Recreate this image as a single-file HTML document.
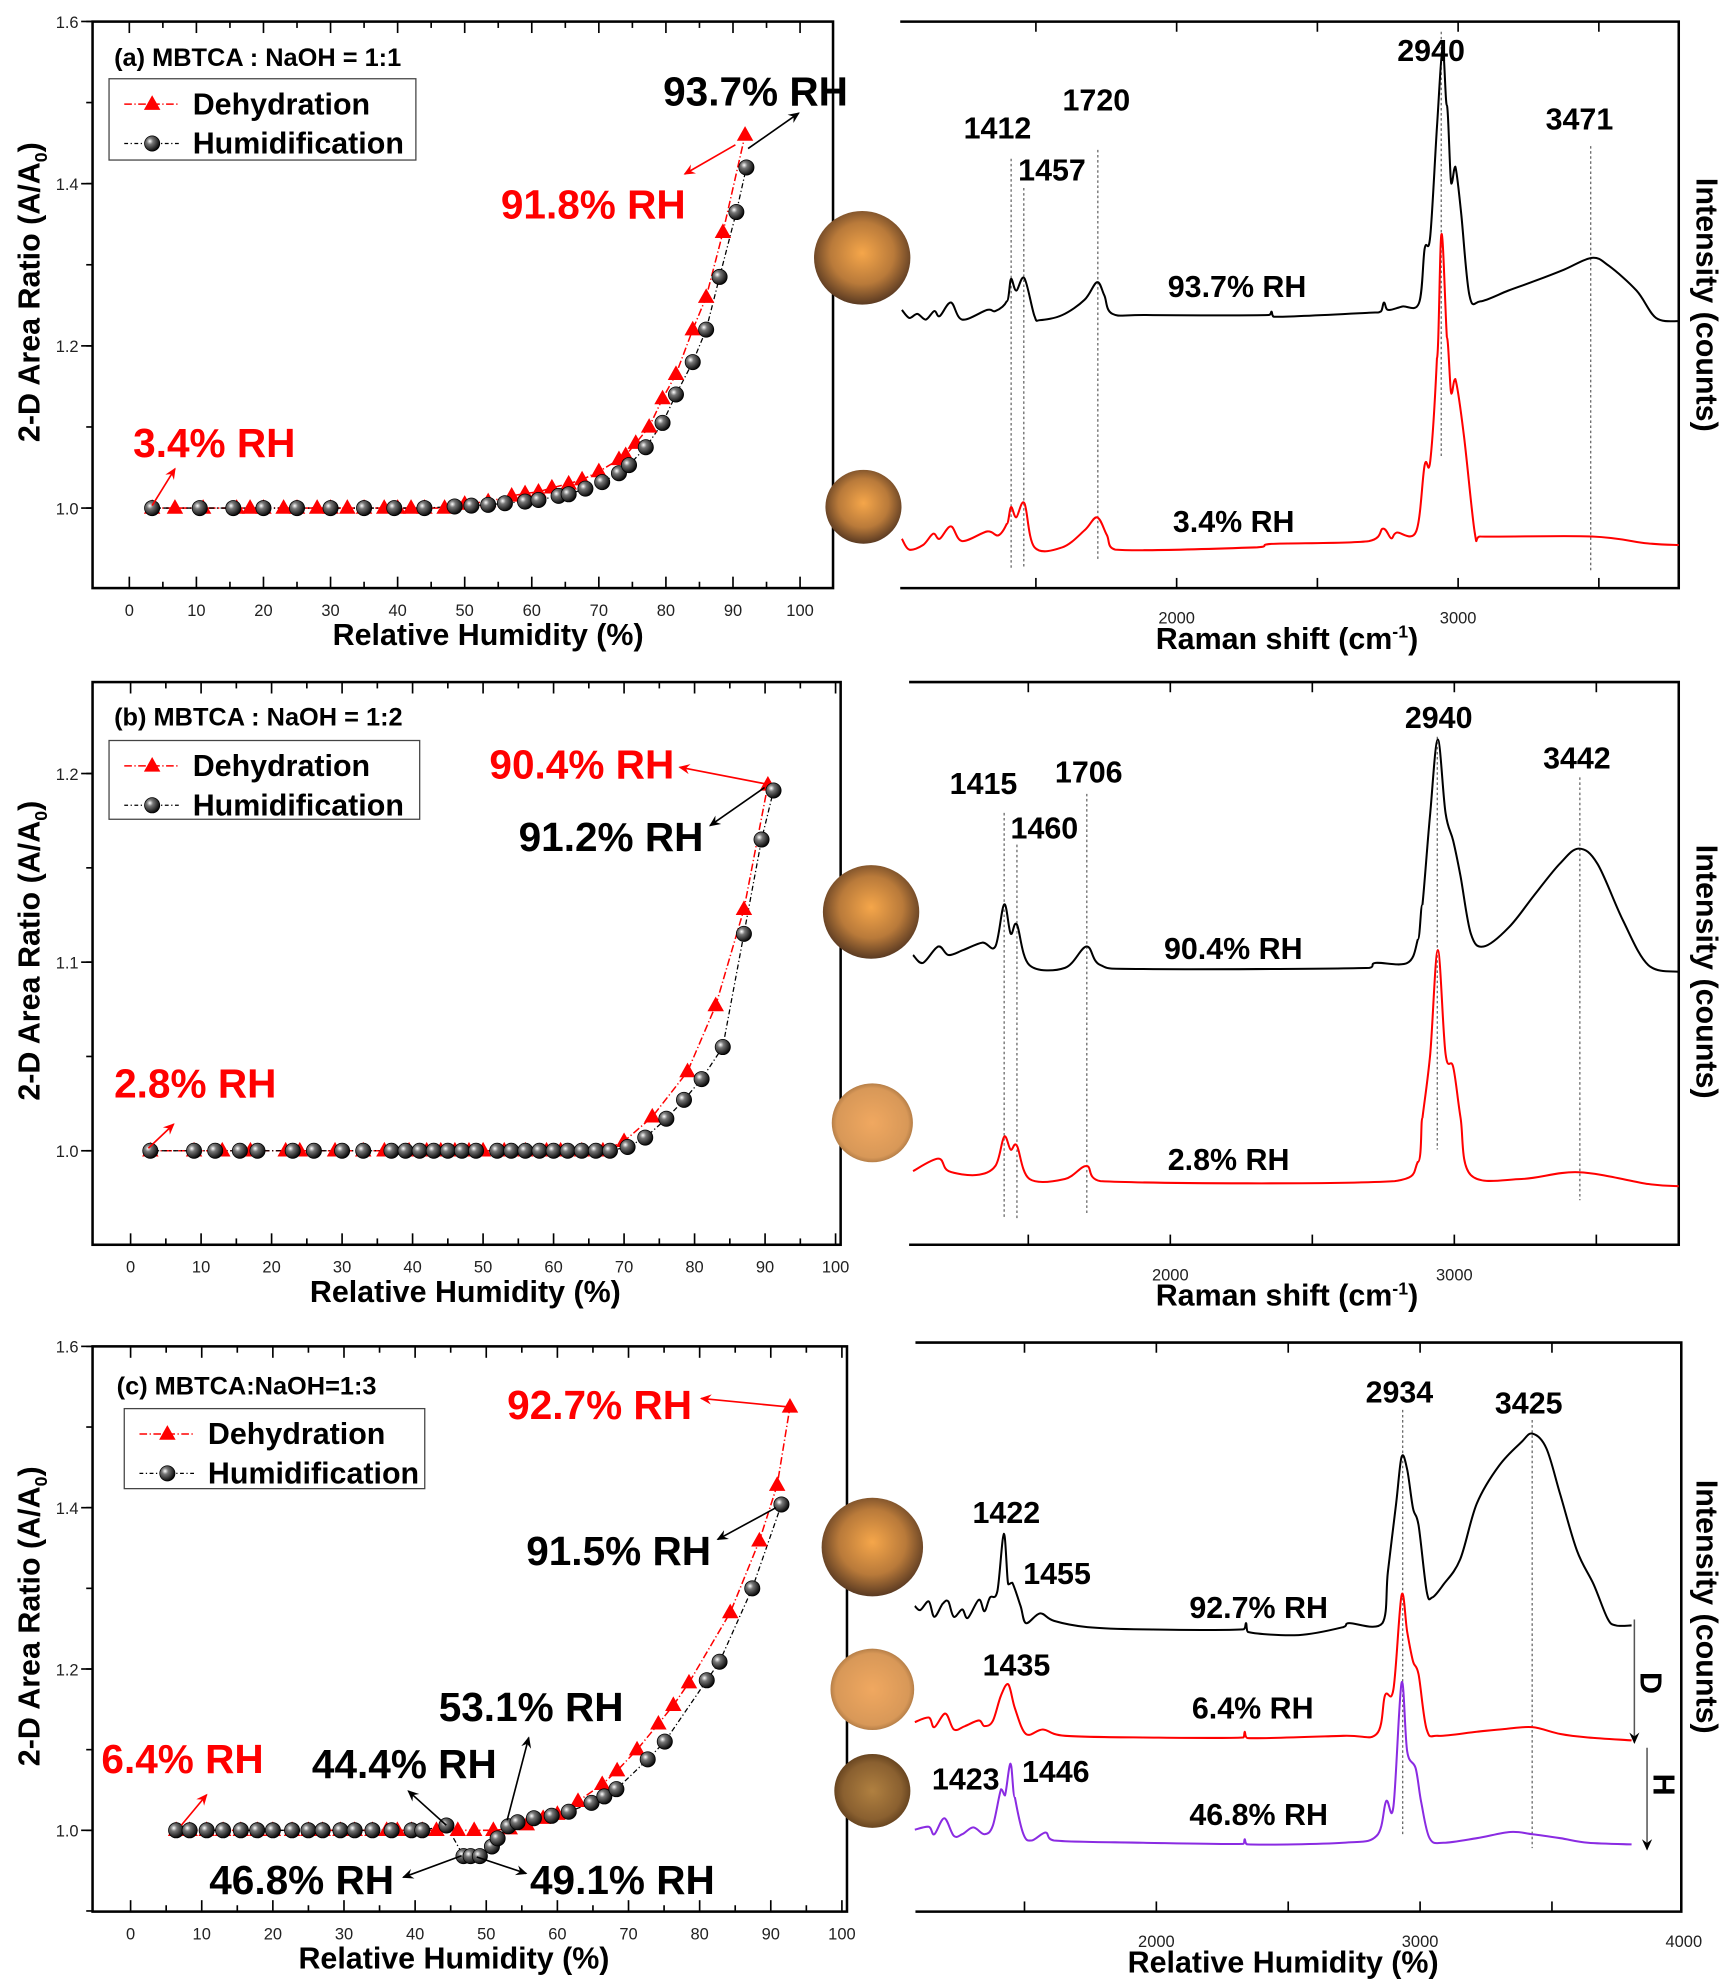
<!DOCTYPE html>
<html><head><meta charset="utf-8">
<style>
html,body{margin:0;padding:0;background:#fff;}
svg{display:block;font-family:"Liberation Sans Narrow","Liberation Sans",sans-serif;}
</style></head>
<body>
<svg id="fig" width="1732" height="1984" viewBox="0 0 1366 1562" preserveAspectRatio="none" xmlns="http://www.w3.org/2000/svg">
<defs>
<radialGradient id="ball" cx="0.35" cy="0.35" r="0.7"><stop offset="0" stop-color="#fff"/><stop offset="0.3" stop-color="#777"/><stop offset="1" stop-color="#000"/></radialGradient>
<radialGradient id="drop1" cx="0.5" cy="0.45" r="0.55"><stop offset="0" stop-color="#f5a64a"/><stop offset="0.6" stop-color="#b97a3a"/><stop offset="1" stop-color="#5a3a22"/></radialGradient>
<radialGradient id="drop2" cx="0.5" cy="0.5" r="0.55"><stop offset="0" stop-color="#f0a860"/><stop offset="0.8" stop-color="#d89858"/><stop offset="1" stop-color="#9a6a3a"/></radialGradient>
<radialGradient id="drop3" cx="0.5" cy="0.5" r="0.55"><stop offset="0" stop-color="#b08040"/><stop offset="0.7" stop-color="#8a6030"/><stop offset="1" stop-color="#5a3a1a"/></radialGradient>
<marker id="arK" markerWidth="10" markerHeight="10" refX="8" refY="5" orient="auto" markerUnits="userSpaceOnUse"><path d="M0,1 L9,5 L0,9 L3,5 Z" fill="#000"/></marker>
<marker id="arR" markerWidth="10" markerHeight="10" refX="8" refY="5" orient="auto" markerUnits="userSpaceOnUse"><path d="M0,1 L9,5 L0,9 L3,5 Z" fill="#f00"/></marker>
</defs>
<g id="root"></g>
</svg>
<script>
// ===== Panel data (area ratio vs RH) =====
const aDehyX=[3.4,6.8,11,16,18,20,23,25,28,30,32.5,35,38,40,42,44,47,50,53.5,57,59,61,63,65.5,67.5,70,73,74,75.5,77.5,79.5,81.5,84,86,88.5,91.8];
const aDehyY=[1,1,1,1,1,1,1,1,1,1,1,1,1,1,1,1,1,1.005,1.008,1.015,1.018,1.02,1.025,1.03,1.035,1.045,1.06,1.065,1.08,1.10,1.135,1.165,1.22,1.26,1.34,1.46];
const aHumX=[3.4,10.5,15.5,20,25,30,35,39.5,44,48.5,51,53.5,56,59,61,64,65.5,68,70.5,73,74.5,77,79.5,81.5,84,86,88,90.5,92];
const aHumY=[1,1,1,1,1,1,1,1,1,1.002,1.003,1.004,1.006,1.008,1.01,1.015,1.017,1.024,1.032,1.043,1.053,1.075,1.105,1.14,1.18,1.22,1.285,1.365,1.42];
const bDehyX=[2.8,9,13,17,22,24,29,33,36,39.5,42,44,46,48,50,53,56,59,61,64,67,70,74,79,83,87,90.4];
const bDehyY=[1,1,1,1,1,1,1,1,1,1,1,1,1,1,1,1,1,1,1,1,1,1.005,1.018,1.042,1.077,1.128,1.194];
const bHumX=[2.8,9,12,15.5,18,23,26,30,33,37,39,41,43,45,47,49,52,54,56,58,60,62,64,66,68,70.5,73,76,78.5,81,84,87,89.5,91.2];
const bHumY=[1,1,1,1,1,1,1,1,1,1,1,1,1,1,1,1,1,1,1,1,1,1,1,1,1,1.002,1.007,1.017,1.027,1.038,1.055,1.115,1.165,1.191];
const cDehyX=[6.4,8.3,10.7,13,15.5,17.8,20,22.7,25,27,29.5,31.5,34,36,37.5,39.5,41,43,46,48.3,51,53.3,55.7,58,60,62.9,66.3,68.4,71.2,74.2,76.3,78.5,84.3,88.4,90.9,92.7];
const cDehyY=[1,1,1,1,1,1,1,1,1,1,1,1,1,1,1,1,1,1,1,1,1,1.002,1.007,1.015,1.02,1.036,1.057,1.074,1.10,1.132,1.155,1.183,1.27,1.359,1.428,1.525];
const cHumX=[6.4,8.3,10.7,13,15.5,17.8,20,22.7,25,27,29.5,31.5,34,36.7,39.5,41,44.4,46.8,47.8,49.1,50.8,51.6,53.1,54.4,56.7,59.2,61.6,64.8,66.6,68.3,72.7,75.1,81,82.8,87.4,91.5];
const cHumY=[1,1,1,1,1,1,1,1,1,1,1,1,1,1,1,1,1.006,0.968,0.968,0.968,0.98,0.99,1.005,1.01,1.015,1.018,1.023,1.034,1.042,1.051,1.088,1.11,1.186,1.209,1.3,1.404];
const xTicksRH=[0,10,20,30,40,50,60,70,80,90,100];
const aYTicks=[1.0,1.2,1.4,1.6];
const bYTicks=[1.0,1.1,1.2];
const cYTicks=[1.0,1.2,1.4,1.6];

// ===== Raman spectra (wavenumber, intensity a.u.) =====
const aBlkW=[1024,1050,1079,1109,1139,1158,1198,1238,1327,1356,1396,1412,1430,1459,1495,1515,1594,1673,1717,1743,1772,1891,2327,2337,2347,2683,2723,2737,2752,2802,2861,2881,2901,2925,2945,2960,2976,2990,3010,3040,3079,3178,3277,3376,3475,3535,3634,3703,3784];
const aBlkI=[49.1,47.7,48.4,47.4,48.9,48.0,50.4,47.4,49.1,48.9,50.6,54.6,52.5,54.7,48.0,47.3,48.2,50.9,54.0,51.7,48.4,48.2,48.2,48.8,47.9,48.6,48.8,50.4,49.1,49.7,50.3,59.9,62.1,81.4,95.4,85.2,71.4,74.4,66.6,51.7,50.6,52.5,54.3,56.2,58.3,56.9,52.5,47.7,47.1];
const aRedW=[1024,1050,1099,1135,1158,1198,1238,1327,1366,1396,1412,1430,1459,1495,1594,1673,1717,1752,1782,2287,2337,2683,2733,2762,2782,2851,2881,2901,2925,2941,2960,2976,2990,3020,3059,3079,3475,3673,3784];
const aRedI=[8.7,6.8,7.6,9.6,8.7,10.9,8.3,10.0,9.3,11.3,14.3,12.5,15.0,7.2,7.2,10.2,12.5,9.4,6.8,7.2,7.8,8.3,10.5,8.8,9.8,10.0,21.7,22.4,40.6,62.5,44.3,34.3,36.9,27.2,9.8,9.1,9.1,7.9,7.6];
const bBlkW=[1094,1129,1183,1219,1272,1339,1384,1415,1438,1460,1504,1629,1705,1754,1897,2701,2723,2835,2871,2888,2915,2942,2969,2996,3022,3058,3103,3192,3281,3371,3438,3504,3594,3683,3790];
const bBlkI=[51.5,50.1,53.0,51.5,52.4,53.7,53.0,60.5,55.3,56.9,49.7,49.2,53.0,49.7,49.0,49.2,50.1,50.1,54.2,60.5,76.7,89.8,76.7,71.8,65.5,55.3,53.0,56.4,62.1,67.7,70.4,67.7,57.6,49.7,48.5];
const bRedW=[1094,1183,1219,1317,1384,1415,1438,1460,1504,1629,1705,1754,2790,2871,2888,2915,2942,2969,2996,3022,3058,3237,3438,3683,3790];
const bRedI=[13.1,15.3,13.1,12.4,14.0,19.2,16.9,17.6,11.7,11.7,14.0,11.3,11.3,14.7,22.6,33.9,52.4,33.9,31.6,22.6,12.4,11.7,12.9,10.8,10.4];
const cBlkW=[1084,1105,1137,1158,1190,1211,1232,1264,1285,1327,1348,1369,1397,1422,1439,1454,1485,1506,1559,1612,1738,1949,2329,2340,2350,2540,2709,2730,2857,2878,2909,2930,2951,2973,2994,3025,3046,3089,3152,3215,3300,3384,3426,3479,3532,3595,3658,3711,3743,3802];
const cBlkI=[53.7,53.0,54.5,51.8,54.1,54.5,51.8,53.1,51.6,54.8,52.8,55.2,56.3,66.4,57.5,57.8,53.7,50.7,52.4,51.1,50.0,49.6,49.6,50.7,49.1,48.6,50.0,50.7,50.7,59.7,71.7,79.9,77.7,70.9,67.9,56.3,55.2,57.5,61.9,71.7,78.4,82.5,84.0,81.4,73.2,63.4,57.5,51.5,50.3,50.3];
const cRedW=[1084,1137,1158,1200,1232,1274,1327,1348,1380,1411,1439,1464,1506,1570,1654,1949,2329,2335,2346,2709,2835,2867,2899,2930,2951,2973,2994,3025,3068,3215,3321,3426,3532,3637,3802];
const cRedI=[33.3,34.1,32.4,34.8,32.0,32.6,33.6,32.6,33.5,38.0,39.9,35.7,31.2,32.0,30.9,30.6,30.6,31.6,30.5,30.9,31.2,38.0,39.1,55.6,49.2,44.0,41.7,32.0,30.9,31.6,32.1,32.4,31.2,30.6,30.1];
const cPurW=[1084,1137,1158,1196,1232,1264,1306,1348,1380,1411,1426,1447,1464,1496,1527,1580,1612,1949,2329,2335,2346,2709,2835,2871,2899,2930,2951,2983,3004,3036,3089,3215,3342,3426,3532,3637,3802];
const cPurI=[14.4,14.9,13.6,16.4,13.3,13.6,14.8,13.6,15.1,21.5,20.4,26.0,20.0,13.6,12.5,13.9,12.5,12.1,11.9,12.7,11.8,12.1,13.3,19.4,18.5,40.2,28.2,25.2,19.3,12.9,12.1,12.9,14.0,13.6,12.9,12.1,11.8];

const NS='http://www.w3.org/2000/svg';
const root=document.getElementById('root');
function mk(tag,attrs,parent){const e=document.createElementNS(NS,tag);for(const k in attrs)e.setAttribute(k,attrs[k]);(parent||root).appendChild(e);return e;}
function txt(x,y,s,size,fill,anchor,extra){const e=mk('text',Object.assign({x:x,y:y,'font-size':size,fill:fill||'#000','text-anchor':anchor||'start','font-weight':'bold'},extra||{}));e.textContent=s;return e;}
function clamp(v,a,b){return Math.max(Math.min(a,b),Math.min(Math.max(a,b),v));}
function smoothPath(pts){
  let d='M'+pts[0][0].toFixed(1)+','+pts[0][1].toFixed(1);
  for(let i=0;i<pts.length-1;i++){
    const p0=pts[Math.max(0,i-1)],p1=pts[i],p2=pts[i+1],p3=pts[Math.min(pts.length-1,i+2)];
    let c1x=p1[0]+(p2[0]-p0[0])/6,c1y=p1[1]+(p2[1]-p0[1])/6;
    let c2x=p2[0]-(p3[0]-p1[0])/6,c2y=p2[1]-(p3[1]-p1[1])/6;
    c1x=clamp(c1x,p1[0],p2[0]);c2x=clamp(c2x,p1[0],p2[0]);
    const dx=p2[0]-p1[0];
    if(dx<4){c1y=p1[1];c2y=p2[1];}
    d+=` C${c1x.toFixed(1)},${c1y.toFixed(1)} ${c2x.toFixed(1)},${c2y.toFixed(1)} ${p2[0].toFixed(1)},${p2[1].toFixed(1)}`;
  }
  return d;
}

// ---------- left panels ----------
function leftPanel(p){
  const g=mk('g',{});
  
  
  const X=v=>p.x0+(v-0)*(p.x100-p.x0)/100;
  const Y=v=>p.yRef+(p.yRefVal-v)*p.pxPerUnit;
  const fr=mk('rect',{x:p.L,y:p.T,width:p.R-p.L,height:p.B-p.T,fill:'none',stroke:'#000','stroke-width':2},g);
  
  
  for(let v=0;v<=100;v+=5){const x=X(v);const l=v%10===0?9:5;
    mk('line',{x1:x,y1:p.B,x2:x,y2:p.B-l,stroke:'#000','stroke-width':1.3},g);
    mk('line',{x1:x,y1:p.T,x2:x,y2:p.T+l,stroke:'#000','stroke-width':1.3},g);}
  xTicksRH.forEach(v=>{const t=txt(X(v),p.B+22,String(v),13,'#222','middle',{'font-weight':'normal','font-family':'Liberation Sans, sans-serif'});g.appendChild(t);
    
    });
  const step=p.yTicks[1]-p.yTicks[0];
  for(let v=p.yTicks[0]-step;v<=p.yTicks[p.yTicks.length-1]+1e-6;v+=step/2){const y=Y(v);if(y>p.B||y<p.T-0.5)continue;
    mk('line',{x1:p.L,y1:y,x2:p.L-5,y2:y,stroke:'#000','stroke-width':1.3},g);}
  p.yTicks.forEach(v=>{const y=Y(v);mk('line',{x1:p.L,y1:y,x2:p.L-9,y2:y,stroke:'#000','stroke-width':1.3},g);
    const t=txt(p.L-11,y+5,v.toFixed(1),13,'#222','end',{'font-weight':'normal','font-family':'Liberation Sans, sans-serif'});g.appendChild(t);
    
    });
  const dl=mk('polyline',{points:p.dx.map((v,i)=>X(v)+','+Y(p.dy[i])).join(' '),fill:'none',stroke:'#f00','stroke-width':1.2,'stroke-dasharray':'6,2,1,2'},g);
  
  
  const hl=mk('polyline',{points:p.hx.map((v,i)=>X(v)+','+Y(p.hy[i])).join(' '),fill:'none',stroke:'#000','stroke-width':1,'stroke-dasharray':'4,2,1,2'},g);
  
  
  p.dx.forEach((v,i)=>{const x=X(v),y=Y(p.dy[i]);
    const m=mk('polygon',{points:`${x},${y-7} ${x-6.5},${y+4.5} ${x+6.5},${y+4.5}`,fill:'#f00'},g);
    
    });
  p.hx.forEach((v,i)=>{const m=mk('circle',{cx:X(v),cy:Y(p.hy[i]),r:6,fill:'url(#ball)',stroke:'#000','stroke-width':0.6},g);
    
    });
  const xt=txt(p.xtX,p.B+45,'Relative Humidity (%)',24,'#000','middle');g.appendChild(xt);
  
  
  const yc=(p.T+p.B)/2-10;
  const yt=mk('text',{x:0,y:0,'font-size':24,'font-weight':'bold','text-anchor':'middle',transform:`translate(31,${yc}) rotate(-90)`,'font-family':'Liberation Sans, sans-serif'},g);
  yt.innerHTML='2-D Area Ratio (A/A<tspan font-size="14" dy="6">0</tspan><tspan dy="-6">)</tspan>';
  
  
  const ti=txt(p.titleX,p.titleY,p.title,20,'#000','start');g.appendChild(ti);
  
  
  const lg=mk('g',{},g);
  
  
  mk('rect',{x:p.lg[0],y:p.lg[1],width:p.lg[2],height:p.lg[3],fill:'#fff',stroke:'#444','stroke-width':1},lg);
  const ly1=p.lg[1]+20,ly2=p.lg[1]+51,lx=p.lg[0]+12;
  mk('line',{x1:lx,y1:ly1,x2:lx+44,y2:ly1,stroke:'#f00','stroke-width':1.2,'stroke-dasharray':'6,2,1,2'},lg);
  mk('polygon',{points:`${lx+22},${ly1-7} ${lx+15.5},${ly1+4.5} ${lx+28.5},${ly1+4.5}`,fill:'#f00'},lg);
  mk('line',{x1:lx,y1:ly2,x2:lx+44,y2:ly2,stroke:'#000','stroke-width':1,'stroke-dasharray':'3,2,1,2'},lg);
  mk('circle',{cx:lx+22,cy:ly2,r:6,fill:'url(#ball)',stroke:'#000','stroke-width':0.6},lg);
  const e1=txt(lx+54,ly1+8,'Dehydration',24,'#000');lg.appendChild(e1);
  
  
  const e2=txt(lx+54,ly2+8,'Humidification',24,'#000');lg.appendChild(e2);
  
  
  p.ann.forEach(a=>{const t=txt(a[0],a[1],a[2],a[3],a[4]);g.appendChild(t);
    
    
    const ar=mk('line',{x1:a[5],y1:a[6],x2:a[7],y2:a[8],stroke:a[4],'stroke-width':1.3,'marker-end':a[4]==='#000'?'url(#arK)':'url(#arR)'},g);
    
    });
}
const F=32;
leftPanel({id:'a',L:73,R:657,T:17,B:463,x0:102,x100:631,yRef:400,yRefVal:1.0,pxPerUnit:638.5,yTicks:aYTicks,xtX:385,
  dx:aDehyX,dy:aDehyY,hx:aHumX,hy:aHumY,title:'(a) MBTCA : NaOH = 1:1',titleX:90,titleY:52,lg:[86,62,242,64],
  ann:[[523,83,'93.7% RH',F,'#000',590,117,630,89],[395,172,'91.8% RH',F,'#f00',580,114,540,137],[105,360,'3.4% RH',F,'#f00',120,398,138,369]]});
leftPanel({id:'b',L:73,R:663,T:537,B:980,x0:103,x100:659,yRef:906,yRefVal:1.0,pxPerUnit:1485,yTicks:bYTicks,xtX:367,
  dx:bDehyX,dy:bDehyY,hx:bHumX,hy:bHumY,title:'(b) MBTCA : NaOH = 1:2',titleX:90,titleY:571,lg:[86,583,245,62],
  ann:[[386,613,'90.4% RH',F,'#f00',603,617,536,604],[409,670,'91.2% RH',F,'#000',603,620,560,650],[90,864,'2.8% RH',F,'#f00',117,904,137,885]]});
leftPanel({id:'c',L:73,R:668,T:1060,B:1505,x0:103,x100:664,yRef:1441,yRefVal:1.0,pxPerUnit:635,yTicks:cYTicks,xtX:358,
  dx:cDehyX,dy:cDehyY,hx:cHumX,hy:cHumY,title:'(c) MBTCA:NaOH=1:3',titleX:92,titleY:1098,lg:[98,1109,237,63],
  ann:[[400,1117,'92.7% RH',F,'#f00',625,1108,553,1101],[415,1232,'91.5% RH',F,'#000',612,1187,566,1212],[80,1396,'6.4% RH',F,'#f00',143,1437,163,1413],
       [346,1355,'53.1% RH',F,'#000',400,1433,417,1368],[246,1400,'44.4% RH',F,'#000',352,1437,322,1410],[165,1491,'46.8% RH',F,'#000',364,1461,318,1478],[418,1491,'49.1% RH',F,'#000',376,1462,415,1475]]});

// ---------- right panels (Raman) ----------
function rightPanel(p){
  const g=mk('g',{});
  
  
  const X=w=>p.x2000+(w-2000)*p.pxPer1000/1000;
  const Y=i=>p.B-i*(p.B-p.T)/100;
  mk('polyline',{points:`${p.L},${p.T} ${p.R},${p.T} ${p.R},${p.B} ${p.L},${p.B}`,fill:'none',stroke:'#000','stroke-width':2},g);
  for(let w=1500;w<=4000;w+=500){const x=X(w);if(x<p.L||x>p.R+1)continue;
    mk('line',{x1:x,y1:p.B,x2:x,y2:p.B-8,stroke:'#000','stroke-width':1.3},g);
    mk('line',{x1:x,y1:p.T,x2:x,y2:p.T+8,stroke:'#000','stroke-width':1.3},g);}
  p.ticks.forEach(w=>{const t=txt(X(w),p.B+28,String(w),13,'#222','middle',{'font-weight':'normal','font-family':'Liberation Sans, sans-serif'});g.appendChild(t);
    
    });
  p.dots.forEach(d=>{const l=mk('line',{x1:X(d[0]),y1:d[1],x2:X(d[0]),y2:d[2],stroke:'#666','stroke-width':1,'stroke-dasharray':'2,2'},g);
    
    });
  p.series.forEach(s=>{const pl=mk('path',{d:smoothPath(s.w.map((w,i)=>[X(w),Y(s.i[i])])),fill:'none',stroke:s.c,'stroke-width':1.6,'stroke-linejoin':'round'},g);
    
    });
  p.labels.forEach(l=>{const t=txt(l[0],l[1],l[2],l[3]||24,'#000','start');g.appendChild(t);
    
    });
  const xt=mk('text',{x:p.xtX,y:p.B+48,'font-size':24,'font-weight':'bold','text-anchor':'middle'},g);
  xt.innerHTML=p.xtitle;
  
  
  const yt=mk('text',{x:0,y:0,'font-size':24,'font-weight':'bold','text-anchor':'middle',transform:`translate(1338,${p.yc}) rotate(90)`,'font-family':'Liberation Sans, sans-serif'},g);
  yt.textContent='Intensity (counts)';
  
  
  p.drops.forEach(d=>{const c=mk('ellipse',{cx:d[0],cy:d[1],rx:d[2],ry:d[2]*0.97,fill:d[3]},g);
    
    });
}
rightPanel({id:'a',L:710,R:1324,T:17,B:463,x2000:928,pxPer1000:222,ticks:[2000,3000],xtX:1015,yc:240,
  xtitle:'Raman shift (cm<tspan font-size="14" dy="-9">-1</tspan><tspan dy="9">)</tspan>',
  series:[{w:aBlkW,i:aBlkI,c:'#000',n:'spectrum-93.7rh'},{w:aRedW,i:aRedI,c:'#f00',n:'spectrum-3.4rh'}],
  dots:[[1412,125,448],[1457,148,448],[1720,118,440],[2940,25,360],[3471,115,450]],
  labels:[[760,109,'1412'],[803,142,'1457'],[838,87,'1720'],[1102,48,'2940'],[1219,102,'3471'],[921,234,'93.7% RH'],[925,419,'3.4% RH']],
  drops:[[680,203,38,'url(#drop1)'],[681,399,30,'url(#drop1)']]});
rightPanel({id:'b',L:717,R:1324,T:537,B:980,x2000:923,pxPer1000:224,ticks:[2000,3000],xtX:1015,yc:765,
  xtitle:'Raman shift (cm<tspan font-size="14" dy="-9">-1</tspan><tspan dy="9">)</tspan>',
  series:[{w:bBlkW,i:bBlkI,c:'#000',n:'spectrum-90.4rh'},{w:bRedW,i:bRedI,c:'#f00',n:'spectrum-2.8rh'}],
  dots:[[1415,640,960],[1460,665,960],[1706,625,955],[2940,580,905],[3442,612,945]],
  labels:[[749,625,'1415'],[797,660,'1460'],[832,616,'1706'],[1108,573,'2940'],[1217,605,'3442'],[918,755,'90.4% RH'],[921,921,'2.8% RH']],
  drops:[[687,718,38,'url(#drop1)'],[688,884,32,'url(#drop2)']]});
rightPanel({id:'c',L:722,R:1326,T:1057,B:1505,x2000:912,pxPer1000:208,ticks:[2000,3000,4000],xtX:1012,yc:1265,
  xtitle:'Relative Humidity (%)',
  series:[{w:cBlkW,i:cBlkI,c:'#000',n:'spectrum-92.7rh'},{w:cRedW,i:cRedI,c:'#f00',n:'spectrum-6.4rh'},{w:cPurW,i:cPurI,c:'#8a2be2',n:'spectrum-46.8rh'}],
  dots:[[2934,1110,1445],[3425,1118,1455]],
  labels:[[1077,1104,'2934'],[1179,1113,'3425'],[767,1199,'1422'],[807,1247,'1455'],[775,1319,'1435'],[735,1409,'1423'],[806,1403,'1446'],[938,1274,'92.7% RH'],[940,1353,'6.4% RH'],[938,1437,'46.8% RH']],
  drops:[[688,1218,40,'url(#drop1)'],[688,1330,33,'url(#drop2)'],[688,1410,30,'url(#drop3)']]});
const dA=mk('line',{x1:1289,y1:1275,x2:1289,y2:1372,stroke:'#555','stroke-width':1.2,'marker-end':'url(#arK)'});


const hA=mk('line',{x1:1299,y1:1376,x2:1299,y2:1456,stroke:'#555','stroke-width':1.2,'marker-end':'url(#arK)'});


const dT=mk('text',{x:0,y:0,'font-size':24,'font-weight':'bold','text-anchor':'middle',transform:'translate(1294,1325) rotate(90)'});dT.textContent='D';


const hT=mk('text',{x:0,y:0,'font-size':24,'font-weight':'bold','text-anchor':'middle',transform:'translate(1304,1405) rotate(90)'});hT.textContent='H';


</script>
</body></html>
